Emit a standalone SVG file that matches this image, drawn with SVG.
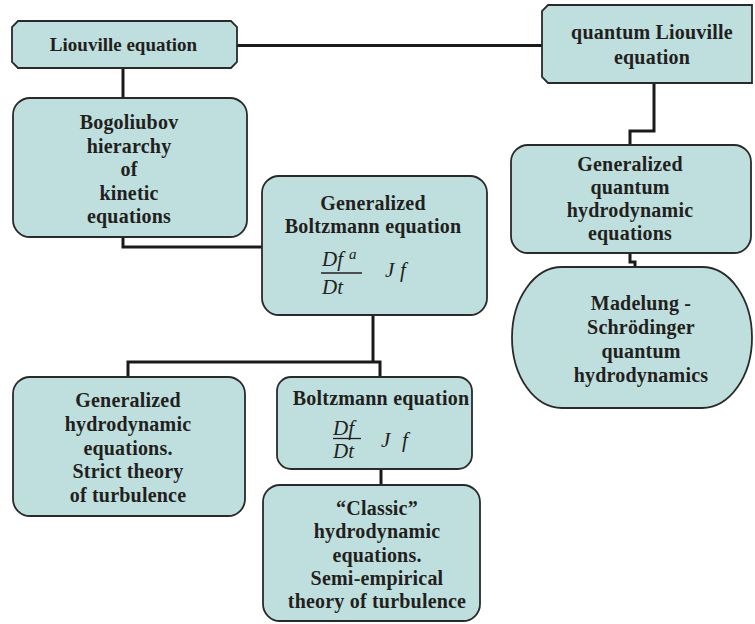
<svg xmlns="http://www.w3.org/2000/svg" width="755" height="624" viewBox="0 0 755 624">
<style>
.box{fill:#bfdfde;stroke:#2a2a2a;stroke-width:1.8}
.t{font-family:"Liberation Serif","Times New Roman",serif;font-weight:bold;font-size:20px;fill:#231f20;text-anchor:middle;letter-spacing:0.2px}
.m{font-family:"Liberation Serif","Times New Roman",serif;font-style:italic;font-size:21px;fill:#231f20}
.c{fill:none;stroke:#1a1a1a;stroke-width:3;stroke-linejoin:miter}
.fl{stroke:#231f20;stroke-width:1.3}
</style>
<rect width="755" height="624" fill="#ffffff"/>
<g id="connectors">
<path class="c" d="M237,45.5 H542"/>
<path class="c" d="M123,68 V98"/>
<path class="c" d="M123,237 V247 H262"/>
<path class="c" d="M654,83 V131 H630 V145"/>
<path class="c" d="M630,253 V262 H635 V267"/>
<path class="c" d="M373,315 V362"/>
<path class="c" d="M128,377 V362 H380 V377"/>
<path class="c" d="M381,469 V485"/>
</g>
<g id="liouville">
<path class="box" d="M18,21 H231 L237,27 V62 L231,68 H18 L12,62 V27 Z"/>
<text class="t" x="123.5" y="51" style="letter-spacing:0;font-size:19px">Liouville equation</text>
</g>
<g id="quantum-liouville">
<path class="box" d="M548,5 H752 V83 H548 L542,77 V11 Z"/>
<text class="t" x="652" y="39">quantum Liouville</text>
<text class="t" x="652" y="64">equation</text>
</g>
<g id="bogoliubov">
<rect class="box" x="13" y="98" width="234" height="139" rx="17" ry="17"/>
<text class="t" x="129" y="129">Bogoliubov</text>
<text class="t" x="129" y="153">hierarchy</text>
<text class="t" x="129" y="176">of</text>
<text class="t" x="129" y="200">kinetic</text>
<text class="t" x="129" y="223">equations</text>
</g>
<g id="gen-boltzmann">
<rect class="box" x="262" y="176" width="225" height="139" rx="17" ry="17"/>
<text class="t" x="373" y="210">Generalized</text>
<text class="t" x="373" y="233">Boltzmann equation</text>
<text class="m" x="322" y="266">Df</text>
<text class="m" x="349" y="259" style="font-size:15px">a</text>
<line class="fl" x1="321" y1="273" x2="362" y2="273"/>
<text class="m" x="322" y="294">Dt</text>
<text class="m" x="385" y="277">J</text>
<text class="m" x="400" y="277">f</text>
</g>
<g id="gen-quantum">
<rect class="box" x="511" y="145" width="240" height="108" rx="17" ry="17"/>
<text class="t" x="630" y="171">Generalized</text>
<text class="t" x="630" y="194">quantum</text>
<text class="t" x="630" y="217">hydrodynamic</text>
<text class="t" x="630" y="240">equations</text>
</g>
<g id="madelung">
<path class="box" d="M562,267 H702 A50,70.5 0 0 1 752,337.5 A50,70.5 0 0 1 702,408 H562 A50,70.5 0 0 1 512,337.5 A50,70.5 0 0 1 562,267 Z"/>
<text class="t" x="641" y="310">Madelung -</text>
<text class="t" x="641" y="334">Schrödinger</text>
<text class="t" x="641" y="358">quantum</text>
<text class="t" x="641" y="382">hydrodynamics</text>
</g>
<g id="gen-hydro">
<rect class="box" x="13" y="377" width="232" height="139" rx="17" ry="17"/>
<text class="t" x="128" y="407">Generalized</text>
<text class="t" x="128" y="431">hydrodynamic</text>
<text class="t" x="128" y="455">equations.</text>
<text class="t" x="128" y="478">Strict theory</text>
<text class="t" x="128" y="502">of turbulence</text>
</g>
<g id="boltzmann">
<rect class="box" x="277" y="377" width="195" height="92" rx="14" ry="14"/>
<text class="t" x="381" y="405">Boltzmann equation</text>
<text class="m" x="333" y="435">Df</text>
<line class="fl" x1="333" y1="438.5" x2="361" y2="438.5"/>
<text class="m" x="333" y="458">Dt</text>
<text class="m" x="381" y="447">J</text>
<text class="m" x="402" y="447">f</text>
</g>
<g id="classic">
<rect class="box" x="263" y="485" width="217" height="136" rx="17" ry="17"/>
<text class="t" x="377" y="515">“Classic”</text>
<text class="t" x="377" y="538">hydrodynamic</text>
<text class="t" x="377" y="562">equations.</text>
<text class="t" x="377" y="585">Semi-empirical</text>
<text class="t" x="377" y="608">theory of turbulence</text>
</g>
</svg>
